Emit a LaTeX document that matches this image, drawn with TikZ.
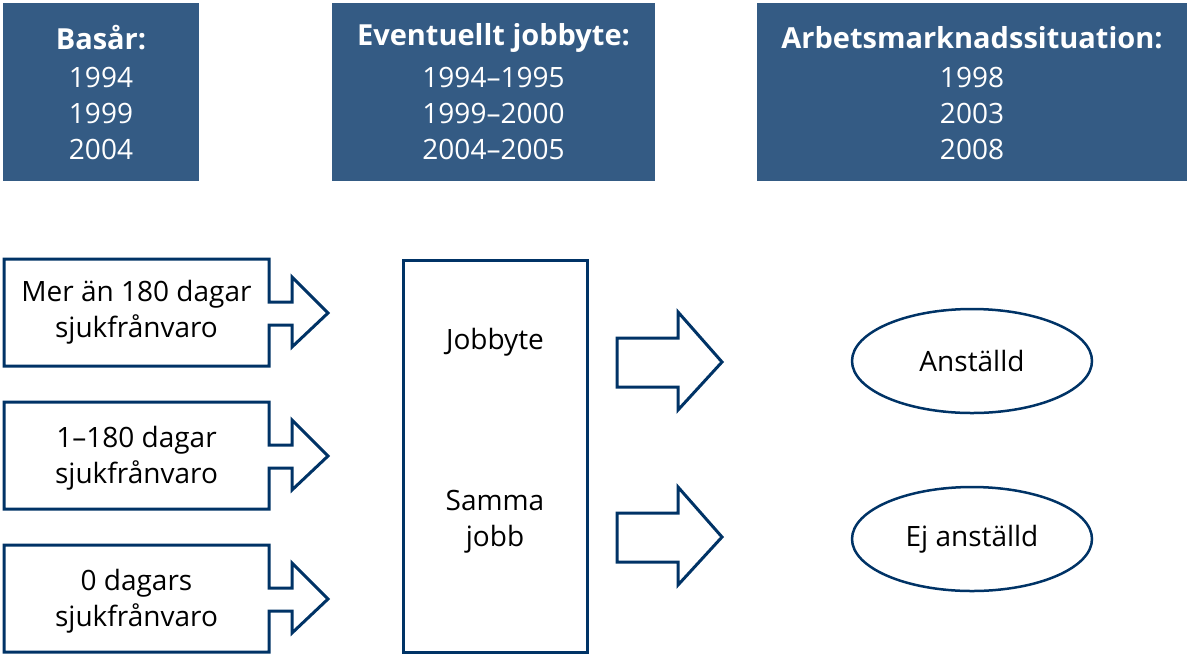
\documentclass[tikz,border=0pt]{standalone}
\usepackage{fontspec}
\setmainfont{Open Sans}
\usetikzlibrary{shapes.geometric}
\definecolor{navy}{RGB}{0,51,102}
\definecolor{panel}{RGB}{52,91,132}
\tikzset{
  panelbox/.style={fill=panel,draw=none},
  paneltext/.style={text=white,align=center,font=\fontsize{28}{36}\selectfont,inner sep=0pt},
  paneltitle/.style={text=white,align=center,font=\fontsize{29}{36}\selectfont\bfseries,inner sep=0pt},
  outline/.style={draw=navy,line width=3pt,line join=miter},
  label/.style={align=center,font=\fontsize{28}{36}\selectfont,inner sep=0pt,text=black},
  oval/.style={ellipse,draw=navy,line width=2.5pt,minimum width=240pt,minimum height=104pt,font=\fontsize{28}{36}\selectfont,inner sep=0pt}
}
\newcommand\sickshape[1]{%
  \draw[outline] (269,#1+43) -- (292,#1+43) -- (292,#1+18) -- (328,#1+54) -- (292,#1+88) -- (292,#1+66) -- (269,#1+66) -- (269,#1+107) -- (4,#1+107) -- (4,#1) -- (269,#1) -- cycle;}
\newcommand\bigarrow[1]{%
  \draw[outline] (617,#1-24) -- (678,#1-24) -- (678,#1-50) -- (722,#1) -- (678,#1+48) -- (678,#1+25) -- (617,#1+25) -- cycle;}
\begin{document}
\begin{tikzpicture}[x=1pt,y=-1pt]
\useasboundingbox (0,0) rectangle (1190,654);
% top panels
\fill[panelbox] (3,3) rectangle (199,181);
\fill[panelbox] (332,3) rectangle (655,181);
\fill[panelbox] (757,3) rectangle (1187,181);
\node[paneltitle] (t1) at (101,38) {Basår:};
\node[paneltext] (y1) at (101,113) {1994\\1999\\2004};
\node[paneltitle] (t2) at (493.5,38) {Eventuellt jobbyte:};
\node[paneltext] (y2) at (493.5,113) {1994–1995\\1999–2000\\2004–2005};
\node[paneltitle] (t3) at (972,38) {Arbetsmarknadssituation:};
\node[paneltext] (y3) at (972,113) {1998\\2003\\2008};
% left boxes
\sickshape{259}
\sickshape{402}
\sickshape{545}
\node[label] (a) at (136.5,312) {Mer än 180 dagar\\sjukfrånvaro};
\node[label] (b) at (136.5,458) {1–180 dagar\\sjukfrånvaro};
\node[label] (c) at (136.5,601) {0 dagars\\sjukfrånvaro};
% middle box
\draw[outline] (403,260) rectangle (587,652);
\node[label] (jb) at (495,342) {Jobbyte};
\node[label] (sj) at (495,522) {Samma\\jobb};
% big arrows
\bigarrow{362}
\bigarrow{537}
% ellipses
\node[oval] (e1) at (972,361) {Anställd};
\node[oval] (e2) at (972,539) {Ej anställd};
\end{tikzpicture}
\end{document}
